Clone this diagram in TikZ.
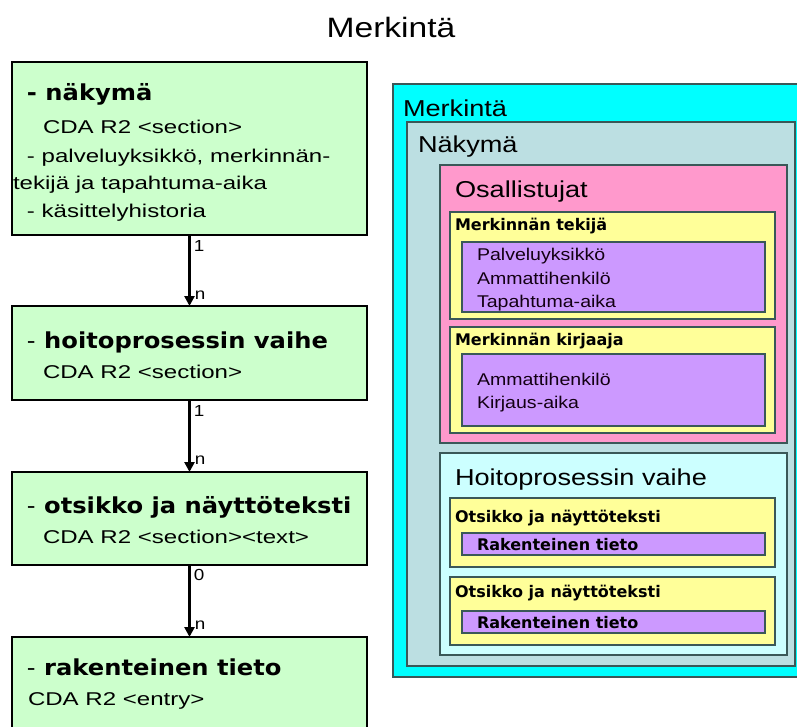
\documentclass[tikz,border=0pt]{standalone}
\usepackage{fontspec}
\setmainfont{Liberation Sans}
\newfontfamily\titlefont[FakeStretch=1.2]{Liberation Sans}
\newfontfamily\bodyfont[FakeStretch=1.3]{Liberation Sans}
\newfontfamily\headfont[FakeStretch=1.1]{DejaVu Sans}
\newfontfamily\panelfont[FakeStretch=1.18]{Liberation Sans}
\newfontfamily\itemfont[FakeStretch=1.15]{Liberation Sans}
\newfontfamily\tagfont{DejaVu Sans}
\usetikzlibrary{arrows.meta}

\definecolor{boxgreen}{HTML}{CCFFCC}
\definecolor{merkcyan}{HTML}{00FFFF}
\definecolor{nakgrey}{HTML}{BCDFE2}
\definecolor{osalpink}{HTML}{FF99CC}
\definecolor{tagyellow}{HTML}{FFFF99}
\definecolor{itempurple}{HTML}{CC99FF}
\definecolor{hoitocyan}{HTML}{CCFFFF}
\definecolor{frameline}{HTML}{3A5858}

\tikzset{
  level/.style={draw=black, line width=1.6pt, fill=boxgreen, anchor=north west,
    inner sep=0pt, outer sep=0pt},
  region/.style={draw=frameline, line width=1.6pt, anchor=north west,
    inner sep=0pt, outer sep=0pt},
  txt/.style={anchor=base west, inner sep=0pt, outer sep=0pt},
  head/.style={txt, font=\headfont\bfseries\fontsize{22}{26}\selectfont},
  body/.style={txt, font=\bodyfont\fontsize{18.5}{22}\selectfont},
  ptitle/.style={txt, font=\panelfont\fontsize{23}{26}\selectfont},
  ptag/.style={txt, font=\tagfont\bfseries\fontsize{16}{19}\selectfont},
  pitem/.style={txt, font=\itemfont\fontsize{17}{20}\selectfont, text=black!85!violet},
  card/.style={anchor=center, inner sep=0pt, font=\panelfont\fontsize{16}{18}\selectfont},
  link/.style={line width=2.8pt, -{Triangle[width=10pt,length=10pt]}},
}

\begin{document}
\begin{tikzpicture}[x=1pt,y=-1pt]
\useasboundingbox (0,0) rectangle (797,726);
\clip (0,0) rectangle (797,726);

% heading
\node[anchor=base, inner sep=0pt, font=\titlefont\fontsize{28}{32}\selectfont] (title) at (391,37) {Merkintä};

% ---- left column: levels of the record ----
\node[level, minimum width=355pt, minimum height=173pt] (b1) at (12,62) {};
\node[level, minimum width=355pt, minimum height=94pt]  (b2) at (12,306) {};
\node[level, minimum width=355pt, minimum height=93pt]  (b3) at (12,472) {};
\node[level, minimum width=355pt, minimum height=130pt] (b4) at (12,637) {};

\node[head] (b1h) at (27,100) {- näkymä};
\node[body] (b1a) at (43,133) {CDA R2 <section>};
\node[body] (b1b) at (27,162) {- palveluyksikkö, merkinnän-};
\node[body] (b1c) at (13,189) {tekijä ja tapahtuma-aika};
\node[body] (b1d) at (27,217) {- käsittelyhistoria};

\node[head] (b2h) at (27,348) {{\mdseries -} hoitoprosessin vaihe};
\node[body] (b2a) at (43,378) {CDA R2 <section>};

\node[head] (b3h) at (27,513) {{\mdseries -} otsikko ja näyttöteksti};
\node[body] (b3a) at (43,543) {CDA R2 <section><text>};

\node[head] (b4h) at (27,675) {{\mdseries -} rakenteinen tieto};
\node[body] (b4a) at (28,705) {CDA R2 <entry>};

% connectors with cardinalities
\draw[link] (b1.south) -- (b2.north);
\draw[link] (b2.south) -- (b3.north);
\draw[link] (b3.south) -- (b4.north);
\node[card] (c1a) at (199,246) {1};
\node[card] (c1b) at (200,295) {n};
\node[card] (c2a) at (199,411) {1};
\node[card] (c2b) at (200,460) {n};
\node[card] (c3a) at (199,575) {0};
\node[card] (c3b) at (200,625) {n};

% ---- right column: nested structure ----
\node[region, fill=merkcyan,   minimum width=410pt, minimum height=593pt] (merk)  at (393,84)  {};
\node[region, fill=nakgrey,    minimum width=388pt, minimum height=544pt] (nak)   at (407,122) {};
\node[region, fill=osalpink,   minimum width=347pt, minimum height=278pt] (osal)  at (440,165) {};
\node[region, fill=tagyellow,  minimum width=325pt, minimum height=107pt] (tek)   at (450,212) {};
\node[region, fill=itempurple, minimum width=303pt, minimum height=70pt]  (tekP)  at (462,242) {};
\node[region, fill=tagyellow,  minimum width=325pt, minimum height=106pt] (kir)   at (450,327) {};
\node[region, fill=itempurple, minimum width=303pt, minimum height=72pt]  (kirP)  at (462,354) {};
\node[region, fill=hoitocyan,  minimum width=347pt, minimum height=202pt] (hoito) at (440,453) {};
\node[region, fill=tagyellow,  minimum width=325pt, minimum height=69pt]  (ot1)   at (450,498) {};
\node[region, fill=itempurple, minimum width=303pt, minimum height=22pt]  (ot1P)  at (462,533) {};
\node[region, fill=tagyellow,  minimum width=325pt, minimum height=68pt]  (ot2)   at (450,577) {};
\node[region, fill=itempurple, minimum width=303pt, minimum height=22pt]  (ot2P)  at (462,611) {};

\node[ptitle] (merkT)  at (403,116) {Merkintä};
\node[ptitle] (nakT)   at (418,152) {Näkymä};
\node[ptitle] (osalT)  at (455,197) {Osallistujat};
\node[ptag]   (tekT)   at (455,230) {Merkinnän tekijä};
\node[pitem]  (tek1)   at (477,260) {Palveluyksikkö};
\node[pitem]  (tek2)   at (477,284) {Ammattihenkilö};
\node[pitem]  (tek3)   at (477,307) {Tapahtuma-aika};
\node[ptag]   (kirT)   at (455,345) {Merkinnän kirjaaja};
\node[pitem]  (kir1)   at (477,385) {Ammattihenkilö};
\node[pitem]  (kir2)   at (477,408) {Kirjaus-aika};
\node[ptitle] (hoitoT) at (455,485) {Hoitoprosessin vaihe};
\node[ptag]   (ot1T)   at (455,522) {Otsikko ja näyttöteksti};
\node[ptag]   (ot1a)   at (477,550) {Rakenteinen tieto};
\node[ptag]   (ot2T)   at (455,597) {Otsikko ja näyttöteksti};
\node[ptag]   (ot2a)   at (477,628) {Rakenteinen tieto};
\end{tikzpicture}
\end{document}
